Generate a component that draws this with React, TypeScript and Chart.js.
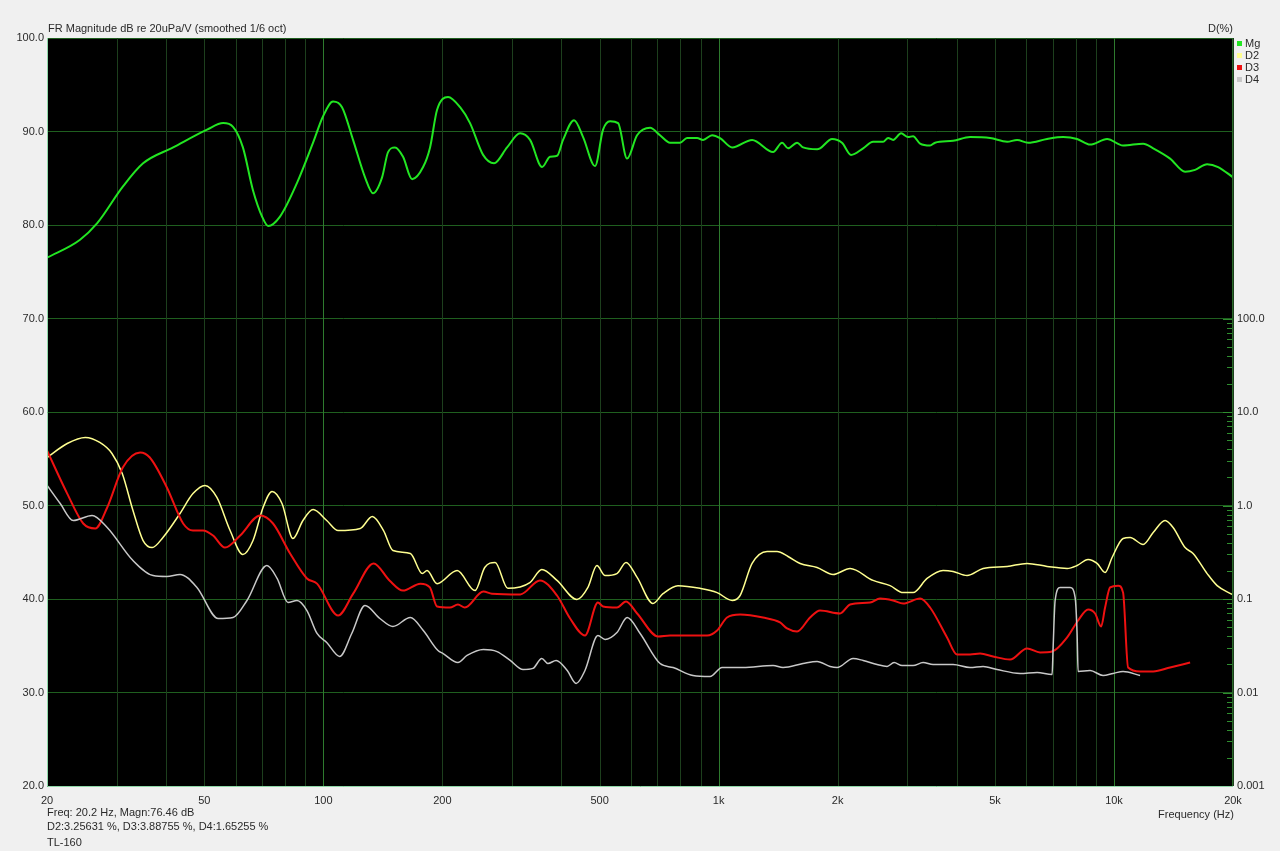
import React, { useEffect, useRef } from 'react';
import { Chart, registerables } from 'chart.js';

Chart.register(...registerables);

// ---- Data ----
const mgFreq = [20, 24.2, 26.8, 31.1, 35, 41.7, 50.8, 55.8, 59.1, 62.6, 66.4, 70, 72.5, 77.7, 85.8, 94.2, 99.8, 105.8, 111.5, 118.9, 127.5, 133.6, 140.8, 145.8, 151.8, 159.1, 167.7, 178.8, 186.2, 193.9, 206.8, 221.8, 235, 253.6, 270.3, 291.6, 314.6, 333.4, 357.5, 374.6, 390.2, 404, 430.8, 454, 486.8, 510, 531.3, 556.6, 586.6, 621.8, 670.6, 710.7, 753.4, 798.6, 831.8, 882, 913.3, 962.4, 1008, 1082, 1215, 1373, 1447, 1498, 1579, 1635, 1774, 1805, 1936, 2051, 2162, 2320, 2458, 2606, 2683, 2762, 2894, 3014, 3103, 3232, 3426, 3527, 3918, 4324, 4860, 5366, 5688, 6063, 6773, 7435, 8066, 8701, 9606, 10544, 11853, 12564, 13864, 15131, 16038, 17202, 18340, 20000];
const mgDb = [76.5, 78.4, 80.2, 84.1, 86.6, 88.3, 90.2, 90.9, 90.5, 88.3, 83.7, 80.9, 79.9, 80.9, 84.5, 88.8, 91.6, 93.2, 92.6, 89.1, 85.1, 83.4, 85.1, 87.8, 88.3, 87.3, 84.9, 86.2, 88.3, 92.3, 93.7, 92.6, 90.9, 87.5, 86.6, 88.3, 89.8, 89.1, 86.2, 87.3, 87.4, 89.1, 91.2, 89.4, 86.3, 90.2, 91.1, 90.9, 87.1, 89.6, 90.4, 89.6, 88.8, 88.8, 89.3, 89.3, 89.1, 89.6, 89.3, 88.3, 89.1, 87.8, 88.8, 88.2, 88.8, 88.3, 88.1, 88.2, 89.2, 88.8, 87.5, 88.2, 88.9, 88.9, 89.3, 89.1, 89.8, 89.4, 89.5, 88.7, 88.5, 88.8, 89.0, 89.4, 89.3, 88.9, 89.1, 88.8, 89.2, 89.4, 89.2, 88.6, 89.2, 88.5, 88.7, 88.2, 87.1, 85.7, 85.9, 86.5, 86.2, 85.1];

const d2Freq = [20, 22.5, 25, 27.2, 29.2, 31, 33, 35, 36.9, 39.3, 43.4, 46.8, 50.2, 53.8, 58.1, 62.6, 66.4, 70.4, 74.2, 78.6, 83.8, 88.8, 94.2, 102, 109, 124, 133, 142, 150, 166, 178, 183, 194, 218, 242, 256, 272, 293, 333, 357, 390, 438, 467, 492, 516, 553, 583, 622, 682, 723, 789, 897, 991, 1082, 1133, 1215, 1326, 1405, 1498, 1607, 1774, 1947, 2150, 2458, 2714, 2928, 3103, 3367, 3695, 3918, 4249, 4666, 5366, 6027, 6773, 7611, 8066, 8600, 9063, 9495, 9890, 10544, 10983, 11853, 12564, 13466, 14108, 15131, 15852, 17202, 18236, 19896];
const d2Pct = [3.26, 4.6, 5.34, 4.72, 3.6, 2.2, 0.884, 0.422, 0.355, 0.455, 0.821, 1.34, 1.64, 1.22, 0.54, 0.299, 0.422, 0.952, 1.41, 1.05, 0.444, 0.691, 0.906, 0.691, 0.54, 0.568, 0.763, 0.54, 0.33, 0.307, 0.187, 0.202, 0.146, 0.202, 0.123, 0.217, 0.246, 0.13, 0.15, 0.207, 0.158, 0.0988, 0.133, 0.228, 0.178, 0.187, 0.246, 0.17, 0.0895, 0.114, 0.139, 0.13, 0.117, 0.0964, 0.109, 0.24, 0.322, 0.322, 0.285, 0.24, 0.217, 0.183, 0.212, 0.158, 0.139, 0.117, 0.117, 0.166, 0.202, 0.197, 0.178, 0.212, 0.223, 0.24, 0.223, 0.212, 0.228, 0.265, 0.24, 0.192, 0.278, 0.444, 0.455, 0.383, 0.514, 0.691, 0.582, 0.355, 0.307, 0.187, 0.139, 0.112];

const d3Freq = [20, 22.5, 24.7, 26.5, 28.4, 31.1, 34.4, 36.4, 40.2, 44.2, 46.8, 49.6, 52.6, 56.4, 61.6, 69.2, 74.6, 82.4, 90.9, 96.4, 109, 119, 134, 147, 159, 176, 186, 194, 209, 219, 228, 254, 267, 315, 353, 390, 421, 459, 495, 510, 553, 583, 622, 703, 753, 935, 991, 1050, 1133, 1295, 1430, 1489, 1579, 1703, 1805, 2028, 2150, 2416, 2560, 2762, 2928, 3232, 3426, 3782, 4009, 4324, 4585, 4946, 5460, 6027, 6501, 6974, 7611, 8114, 8600, 8958, 9277, 9495, 9776, 10242, 10544, 10856, 11641, 12564, 13864, 15578];
const d3Pct = [3.88, 1.34, 0.642, 0.568, 0.952, 2.55, 3.69, 3.26, 1.56, 0.642, 0.54, 0.54, 0.478, 0.355, 0.478, 0.782, 0.642, 0.307, 0.166, 0.146, 0.0666, 0.114, 0.24, 0.158, 0.123, 0.146, 0.133, 0.0831, 0.0811, 0.0873, 0.0811, 0.12, 0.114, 0.112, 0.158, 0.109, 0.0619, 0.0407, 0.0918, 0.0831, 0.0811, 0.094, 0.07, 0.0397, 0.0407, 0.0407, 0.046, 0.0634, 0.0683, 0.0634, 0.0561, 0.0484, 0.0449, 0.0634, 0.0753, 0.07, 0.0873, 0.0918, 0.101, 0.0964, 0.0895, 0.101, 0.0811, 0.0388, 0.0255, 0.0255, 0.0261, 0.0243, 0.0225, 0.0296, 0.0268, 0.0274, 0.0388, 0.0589, 0.0772, 0.07, 0.0508, 0.0811, 0.133, 0.139, 0.117, 0.0185, 0.0168, 0.0168, 0.0185, 0.0209];

const d4Freq = [20, 21.6, 23.3, 26, 28.4, 33, 37.1, 40.2, 43.4, 47.9, 54.2, 59.1, 64.1, 72, 76.4, 81.4, 85.8, 90.9, 96.4, 102, 110, 118, 127.5, 139, 150, 166, 179, 195, 201, 219, 231, 254, 275, 297, 320, 339, 357, 370, 388, 414, 436, 459, 495, 516, 553, 587, 633, 711, 767, 861, 951, 1020, 1152, 1373, 1455, 1635, 1774, 1914, 1993, 2188, 2320, 2516, 2667, 2778, 2911, 3103, 3289, 3486, 3918, 4324, 4666, 5062, 5787, 6389, 6974, 7015, 7097, 7307, 7745, 7974, 8066, 8114, 8701, 9385, 9948, 10544, 11641];
const d4Pct = [1.65, 1.05, 0.691, 0.782, 0.582, 0.258, 0.178, 0.174, 0.183, 0.133, 0.0619, 0.0634, 0.0964, 0.228, 0.166, 0.0918, 0.0964, 0.0753, 0.0428, 0.0343, 0.0243, 0.0428, 0.0852, 0.0619, 0.0508, 0.0634, 0.046, 0.0281, 0.0261, 0.0209, 0.0249, 0.0288, 0.0274, 0.022, 0.0176, 0.0181, 0.0231, 0.0204, 0.022, 0.0172, 0.0125, 0.0172, 0.0407, 0.0369, 0.0438, 0.0634, 0.0428, 0.0204, 0.0185, 0.0152, 0.0148, 0.0185, 0.0185, 0.0194, 0.0185, 0.0204, 0.0215, 0.019, 0.0185, 0.0231, 0.022, 0.0199, 0.019, 0.0209, 0.0194, 0.0194, 0.0209, 0.0199, 0.0199, 0.0185, 0.019, 0.0176, 0.016, 0.0164, 0.0156, 0.0303, 0.0964, 0.133, 0.133, 0.104, 0.0428, 0.0168, 0.0172, 0.0152, 0.016, 0.0168, 0.0152];

const xGridValues = [20, 30, 40, 50, 60, 70, 80, 90, 100, 200, 300, 400, 500, 600, 700, 800, 900, 1000, 2000, 3000, 4000, 5000, 6000, 7000, 8000, 9000, 10000, 20000];
const xDecadeValues = [100, 1000, 10000];
const xLabels: Record<number, string> = { 20: '20', 50: '50', 100: '100', 200: '200', 500: '500', 1000: '1k', 2000: '2k', 5000: '5k', 10000: '10k', 20000: '20k' };
const rightTickValues = [0.001, 0.01, 0.1, 1, 10, 100];
const rightTickLabels = ['0.001', '0.01', '0.1', '1.0', '10.0', '100.0'];
const legendNames = ['Mg', 'D2', 'D3', 'D4'];
const seriesColors = ['#22e622', '#ffff90', '#ee1111', '#c8c8c8'];
const infoLines = ['Freq: 20.2 Hz, Magn:76.46 dB', 'D2:3.25631 %, D3:3.88755 %, D4:1.65255 %', 'TL-160'];

const FONT = '"Liberation Sans", Arial, sans-serif';
const TEXT = '#2a2a2a';

function pts(xs: number[], ys: number[]) {
  return xs.map((x, i) => ({ x, y: ys[i] }));
}

export default function App() {
  const ref = useRef<HTMLCanvasElement>(null);

  useEffect(() => {
    const bgPlugin = {
      id: 'bg',
      beforeDraw(chart: any) {
        const { ctx, chartArea: a } = chart;
        ctx.save();
        ctx.fillStyle = '#f0f0f0';
        ctx.fillRect(0, 0, chart.width, chart.height);
        ctx.fillStyle = '#000000';
        ctx.fillRect(a.left, a.top, a.right - a.left, a.bottom - a.top);
        ctx.restore();
      },
      beforeDatasetsDraw(chart: any) {
        const { ctx, chartArea: a } = chart;
        const xs = chart.scales.x;
        ctx.save();
        ctx.lineWidth = 1;
        xGridValues.forEach((v) => {
          const px = Math.round(xs.getPixelForValue(v)) + 0.5;
          ctx.strokeStyle = xDecadeValues.includes(v) ? '#2e7a2e' : '#1d3f1d';
          ctx.beginPath();
          ctx.moveTo(px, a.top);
          ctx.lineTo(px, a.bottom);
          ctx.stroke();
        });
        ctx.restore();
      },
    };

    const overlayPlugin = {
      id: 'overlay',
      afterDraw(chart: any) {
        const { ctx, chartArea: a } = chart;
        const y2 = chart.scales.y2;
        ctx.save();
        // right axis minor ticks
        ctx.strokeStyle = '#2f8f2f';
        ctx.lineWidth = 1;
        for (let e = -3; e <= 2; e++) {
          for (let m = 1; m <= 9; m++) {
            const v = m * Math.pow(10, e);
            if (v > 100.0001) continue;
            const py = Math.round(y2.getPixelForValue(v)) + 0.5;
            const len = m === 1 ? 10 : 6;
            ctx.beginPath();
            ctx.moveTo(a.right - len, py);
            ctx.lineTo(a.right, py);
            ctx.stroke();
          }
        }
        // borders
        ctx.strokeStyle = '#8fd8a8';
        ctx.beginPath();
        ctx.moveTo(a.left + 0.5, a.top);
        ctx.lineTo(a.left + 0.5, a.bottom + 0.5);
        ctx.lineTo(a.right, a.bottom + 0.5);
        ctx.stroke();
        ctx.strokeStyle = '#2a6a2a';
        ctx.beginPath();
        ctx.moveTo(a.right - 0.5, a.top);
        ctx.lineTo(a.right - 0.5, a.bottom);
        ctx.stroke();

        // texts
        ctx.fillStyle = TEXT;
        ctx.font = `11px ${FONT}`;
        ctx.textBaseline = 'alphabetic';
        ctx.textAlign = 'left';
        ctx.fillText('FR Magnitude dB re 20uPa/V (smoothed 1/6 oct)', 48, 32);
        ctx.textAlign = 'right';
        ctx.fillText('D(%)', 1233, 32);
        // legend
        ctx.textAlign = 'left';
        legendNames.forEach((n, i) => {
          const ly = 43 + i * 12;
          ctx.fillStyle = seriesColors[i];
          ctx.fillRect(1237, ly - 2, 5, 5);
          ctx.fillStyle = TEXT;
          ctx.fillText(n, 1245, ly + 4);
        });
        // info text bottom-left
        infoLines.forEach((t, i) => {
          ctx.fillText(t, 47, [816, 830, 846][i]);
        });
        ctx.textAlign = 'center';
        ctx.fillText('Frequency (Hz)', 1196, 818);
        ctx.restore();
      },
    };

    const chart = new Chart(ref.current as HTMLCanvasElement, {
      type: 'line',
      data: {
        datasets: [
          { label: 'Mg', data: pts(mgFreq, mgDb), yAxisID: 'y', borderColor: seriesColors[0], borderWidth: 2 },
          { label: 'D2', data: pts(d2Freq, d2Pct), yAxisID: 'y2', borderColor: seriesColors[1], borderWidth: 1.5 },
          { label: 'D3', data: pts(d3Freq, d3Pct), yAxisID: 'y2', borderColor: seriesColors[2], borderWidth: 2 },
          { label: 'D4', data: pts(d4Freq, d4Pct), yAxisID: 'y2', borderColor: seriesColors[3], borderWidth: 1.5 },
        ].reverse(),
      },
      options: {
        responsive: false,
        animation: false,
        layout: { padding: { top: 38, left: 0, right: 0, bottom: 0 } },
        plugins: { legend: { display: false }, tooltip: { enabled: false } },
        elements: {
          point: { radius: 0 },
          line: { cubicInterpolationMode: 'monotone', fill: false },
        },
        scales: {
          x: {
            type: 'logarithmic',
            min: 20,
            max: 20000,
            afterBuildTicks: (s: any) => {
              s.ticks = xGridValues.map((v) => ({ value: v }));
            },
            afterFit: (s: any) => {
              s.height = 65;
            },
            ticks: {
              autoSkip: false,
              maxRotation: 0,
              padding: 8,
              color: TEXT,
              font: { size: 11, family: FONT },
              callback: (v: any) => xLabels[Number(v)] ?? '',
            },
            grid: { display: false, drawTicks: false },
            border: { display: false },
          },
          y: {
            position: 'left',
            min: 20,
            max: 100,
            afterFit: (s: any) => {
              s.width = 47;
            },
            ticks: {
              stepSize: 10,
              padding: 3,
              color: TEXT,
              font: { size: 11, family: FONT },
              callback: (v: any) => Number(v).toFixed(1),
            },
            grid: { drawTicks: false, color: '#1f5f1f' },
            border: { display: false },
          },
          y2: {
            type: 'logarithmic',
            position: 'right',
            min: 0.001,
            max: 100000,
            afterBuildTicks: (s: any) => {
              s.ticks = rightTickValues.map((v) => ({ value: v }));
            },
            afterFit: (s: any) => {
              s.width = 47;
            },
            ticks: {
              padding: 4,
              color: TEXT,
              font: { size: 11, family: FONT },
              callback: (v: any) => {
                const i = rightTickValues.findIndex((t) => Math.abs(t - Number(v)) / t < 1e-6);
                return i >= 0 ? rightTickLabels[i] : '';
              },
            },
            grid: { display: false, drawTicks: false },
            border: { display: false },
          },
        },
      } as any,
      plugins: [bgPlugin, overlayPlugin],
    });
    return () => chart.destroy();
  }, []);

  return (
    <div style={{ position: 'fixed', left: 0, top: 0, width: 1280, height: 851, background: '#f0f0f0' }}>
      <canvas ref={ref} width={1280} height={851} style={{ display: 'block', width: 1280, height: 851 }} />
    </div>
  );
}
